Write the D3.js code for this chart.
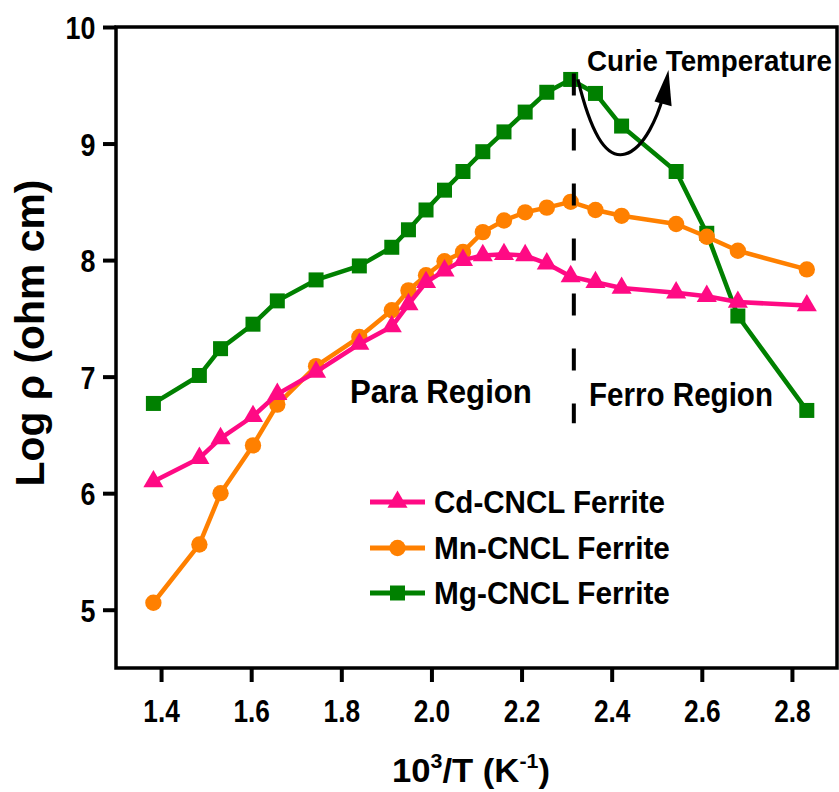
<!DOCTYPE html>
<html>
<head>
<meta charset="utf-8">
<script src="https://cdn.jsdelivr.net/npm/d3@7"></script>
<style>
  body { margin: 0; background: #fff; }
  svg { display: block; }
  text { font-family: "Liberation Sans", Arial, Helvetica, sans-serif; font-weight: bold; fill: #000; }
</style>
</head>
<body>
<svg id="chart" width="839" height="792"></svg>
<script>
// Inverse temperature, 10^3/T (K^-1)
const invT = [1.383, 1.485, 1.532, 1.604, 1.658, 1.744, 1.840, 1.912, 1.949, 1.988, 2.029, 2.070,
              2.114, 2.161, 2.208, 2.256, 2.309, 2.364, 2.422, 2.543, 2.611, 2.680, 2.833];

// Log of resistivity (ohm cm) for each ferrite
const cdRho = [6.10, 6.30, 6.47, 6.66, 6.85, 7.04, 7.28, 7.43, 7.62, 7.81, 7.91, 8.00,
               8.04, 8.05, 8.04, 7.97, 7.86, 7.81, 7.76, 7.72, 7.69, 7.64, 7.61];
const mnRho = [5.06, 5.56, 6.00, 6.41, 6.76, 7.09, 7.34, 7.57, 7.74, 7.87, 7.99, 8.07,
               8.24, 8.34, 8.41, 8.45, 8.50, 8.43, 8.38, 8.31, 8.20, 8.08, 7.92];
const mgRho = [6.77, 7.01, 7.24, 7.45, 7.65, 7.83, 7.95, 8.11, 8.26, 8.43, 8.60, 8.76,
               8.93, 9.10, 9.27, 9.44, 9.55, 9.43, 9.15, 8.76, 8.23, 7.52, 6.71];

const seriesNames = ["Cd-CNCL Ferrite", "Mn-CNCL Ferrite", "Mg-CNCL Ferrite"];
const xTickVals = [1.4, 1.6, 1.8, 2.0, 2.2, 2.4, 2.6, 2.8];
const yTickVals = [5, 6, 7, 8, 9, 10];

// Curie transition marker and the curved arrow (data units)
const curieX = 2.316;
const curieSpan = [9.60, 6.60];
const arrowPath = [[2.325, 9.55], [2.352, 9.12], [2.385, 8.86], [2.430, 8.91],
                   [2.474, 8.96], [2.503, 9.25], [2.514, 9.40]];
const arrowHead = [[2.526, 9.63], [2.495, 9.36], [2.533, 9.32]];

const svg = d3.select("#chart");
const x = d3.scaleLinear().domain([1.3, 2.9]).range([116, 837]);
const y = d3.scaleLinear().domain([4.5, 10]).range([668, 27]);

// squeeze or stretch a text horizontally so it spans a given width
function place(t, x0, y0, w, anchor, extra) {
  t.attr("text-anchor", anchor).attr("x", 0).attr("y", 0);
  const len = t.node().getComputedTextLength();
  t.attr("transform", `translate(${x0},${y0})${extra || ""} scale(${w / len},1)`);
}

const series = [
  { name: seriesNames[2], vals: mgRho, color: "#008000", type: d3.symbolSquare,   size: 225 },
  { name: seriesNames[1], vals: mnRho, color: "#FF8000", type: d3.symbolCircle,   size: 210 },
  { name: seriesNames[0], vals: cdRho, color: "#FF0A84", type: d3.symbolTriangle, size: 175 }
];

const line = d3.line().x((d, i) => x(invT[i])).y(d => y(d));

series.forEach(s => {
  const g = svg.append("g");
  g.append("path").attr("d", line(s.vals))
    .attr("fill", "none").attr("stroke", s.color).attr("stroke-width", 4.5)
    .attr("stroke-linejoin", "round");
  g.selectAll("path.m").data(s.vals).join("path").attr("class", "m")
    .attr("d", d3.symbol().type(s.type).size(s.size))
    .attr("transform", (d, i) => `translate(${x(invT[i])},${y(d)})`)
    .attr("fill", s.color);
});

// dashed Curie line
svg.append("line")
  .attr("x1", x(curieX)).attr("x2", x(curieX))
  .attr("y1", y(curieSpan[0])).attr("y2", y(curieSpan[1]))
  .attr("stroke", "#000").attr("stroke-width", 4).attr("stroke-dasharray", "22,33");

// curved arrow
const ap = arrowPath.map(p => [x(p[0]), y(p[1])]);
svg.append("path")
  .attr("d", `M${ap[0]}C${ap[1]} ${ap[2]} ${ap[3]}C${ap[4]} ${ap[5]} ${ap[6]}`)
  .attr("fill", "none").attr("stroke", "#000").attr("stroke-width", 3.2);
svg.append("path")
  .attr("d", "M" + arrowHead.map(p => [x(p[0]), y(p[1])]).join("L") + "Z")
  .attr("fill", "#000");

// frame
const [x0, x1] = x.range();
const [yb, yt] = y.range();
svg.append("rect").attr("x", x0).attr("y", yt).attr("width", x1 - x0).attr("height", yb - yt)
  .attr("fill", "none").attr("stroke", "#000").attr("stroke-width", 3.5);

// bottom axis
const gx = svg.append("g").attr("transform", `translate(0,${yb})`)
  .call(d3.axisBottom(x).tickValues(xTickVals).tickSize(14).tickFormat(d3.format(".1f")));
gx.select(".domain").remove();
gx.selectAll(".tick line").attr("stroke", "#000").attr("stroke-width", 4);
gx.selectAll(".tick text").attr("font-size", 32).attr("dy", null).attr("y", 54)
  .attr("transform", "scale(0.82,1)").attr("fill", "#000");

// left axis
const gy = svg.append("g").attr("transform", `translate(${x0},0)`)
  .call(d3.axisLeft(y).tickValues(yTickVals).tickSize(13).tickFormat(d3.format("d")));
gy.select(".domain").remove();
gy.selectAll(".tick line").attr("stroke", "#000").attr("stroke-width", 4);
gy.selectAll(".tick text").attr("font-size", 32).attr("dy", "0.36em").attr("x", -20.5 / 0.84)
  .attr("transform", "scale(0.84,1)").attr("fill", "#000");

// axis titles
const yTitle = svg.append("text").attr("font-size", 40).text("Log ρ (ohm cm)");
place(yTitle, 44, 333, 307, "middle", " rotate(-90)");

const xTitle = svg.append("text").attr("font-size", 34);
xTitle.append("tspan").text("10");
xTitle.append("tspan").attr("font-size", 21).attr("dy", -14).text("3");
xTitle.append("tspan").attr("dy", 14).text("/T (K");
xTitle.append("tspan").attr("font-size", 21).attr("dy", -14).text("-1");
xTitle.append("tspan").attr("dy", 14).text(")");
place(xTitle, 392, 782, 158, "start");

// region and Curie annotations
place(svg.append("text").attr("font-size", 34).text("Para Region"), 350, 403, 182, "start");
place(svg.append("text").attr("font-size", 34).text("Ferro Region"), 589, 406, 184, "start");
place(svg.append("text").attr("font-size", 30).text("Curie Temperature"), 587, 71, 245, "start");

// legend
const legendRows = [series[2], series[1], series[0]];
const legendY = [502, 548, 593];
const legendW = [231, 236, 236];
legendRows.forEach((s, i) => {
  const g = svg.append("g").attr("transform", `translate(0,${legendY[i]})`);
  g.append("line").attr("x1", 370).attr("x2", 425).attr("stroke", s.color).attr("stroke-width", 5);
  g.append("path").attr("d", d3.symbol().type(s.type).size(s.size))
    .attr("transform", "translate(397.5,0)").attr("fill", s.color);
  place(g.append("text").attr("font-size", 32).text(s.name), 434, 11, legendW[i], "start");
});
</script>
</body>
</html>
